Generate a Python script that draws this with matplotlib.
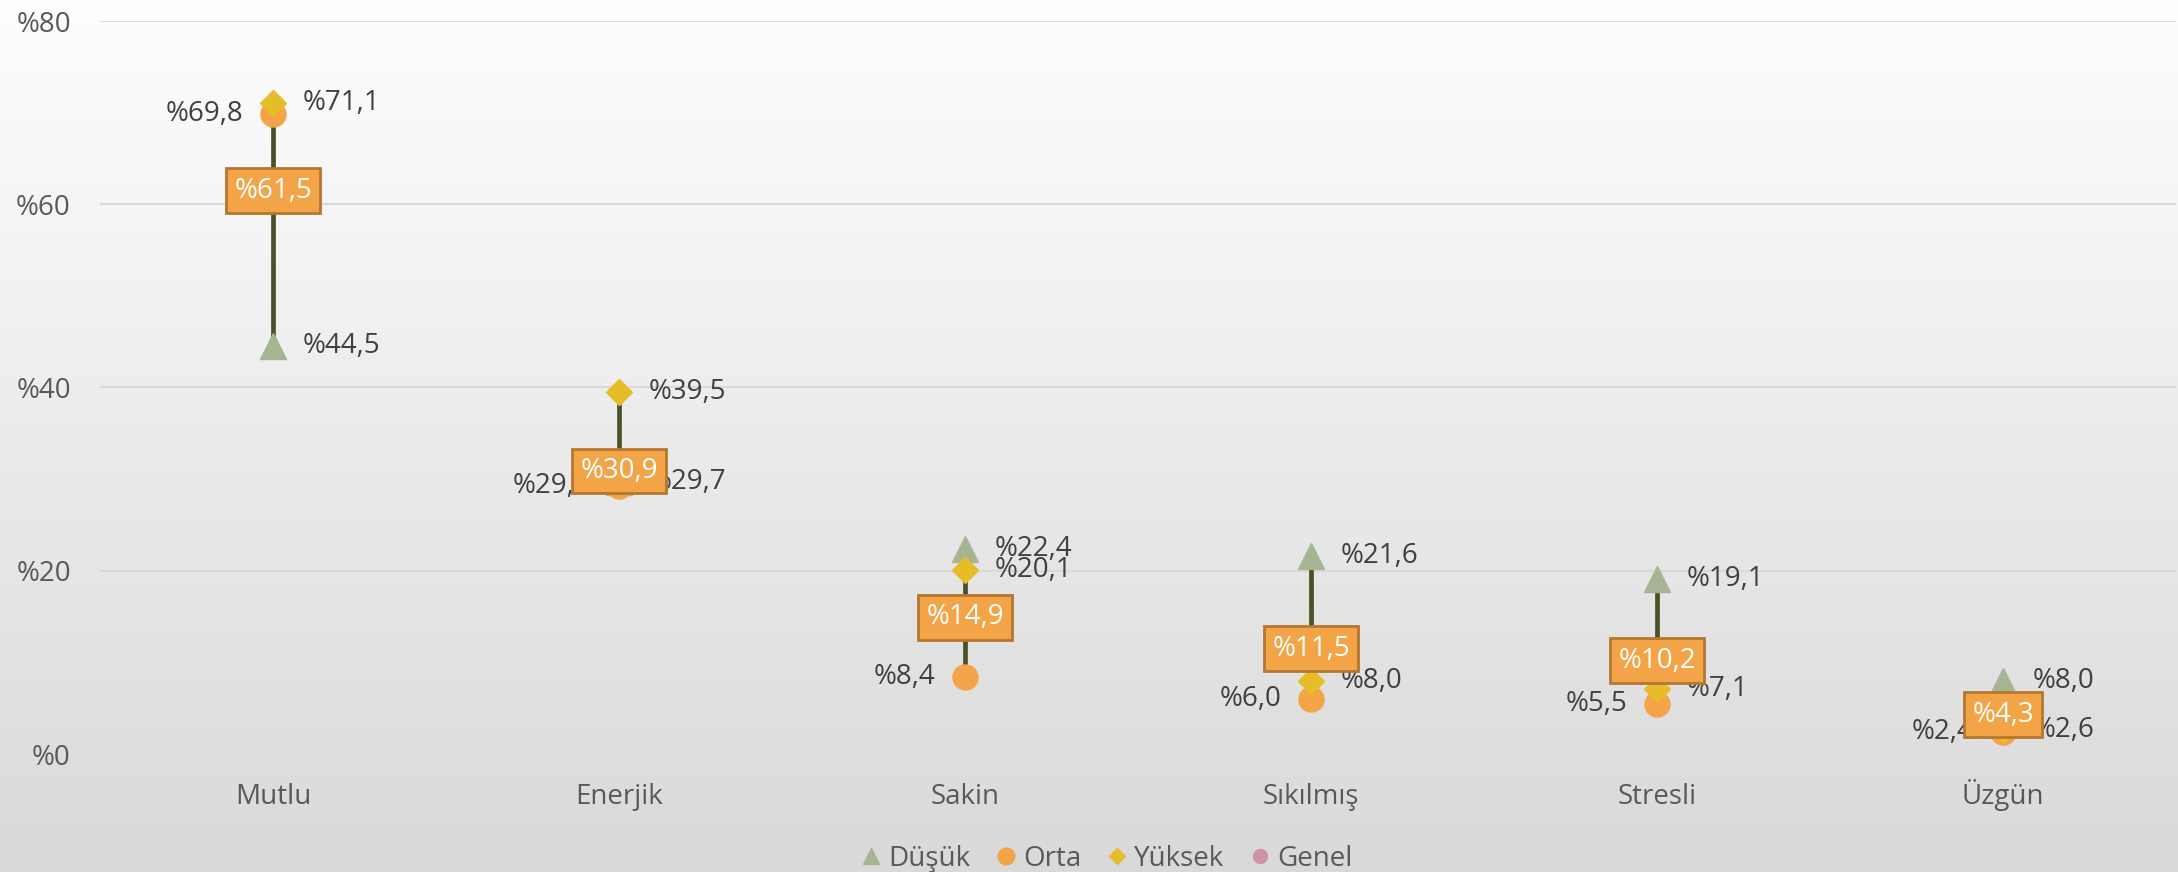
import matplotlib.pyplot as plt
import numpy as np
from matplotlib.lines import Line2D

plt.rcParams['font.family'] = ['Open Sans', 'DejaVu Sans']

# values (percent)
categories = ["Mutlu", "Enerjik", "Sakin", "Sıkılmış", "Stresli", "Üzgün"]
dusuk = [44.5, 29.7, 22.4, 21.6, 19.1, 8.0]
orta = [69.8, 29.3, 8.4, 6.0, 5.5, 2.4]
yuksek = [71.1, 39.5, 20.1, 8.0, 7.1, 2.6]
genel = [61.5, 30.9, 14.9, 11.5, 10.2, 4.3]
yticks = [0, 20, 40, 60, 80]

c_dusuk = "#A5B592"
c_orta = "#F3A447"
c_yuksek = "#E7BC29"
c_genel = "#D092A7"
c_line = "#4A5028"
c_lbl = "#404040"


def fmt(v):
    return "%" + f"{v:.1f}".replace(".", ",")


fig = plt.figure(figsize=(21.78, 8.72), dpi=100)

# light grey gradient behind everything
bg = fig.add_axes([0, 0, 1, 1], zorder=-10)
grad = np.linspace(0, 1, 256).reshape(-1, 1)
bg.imshow(grad, aspect='auto', cmap=plt.matplotlib.colors.LinearSegmentedColormap.from_list(
    "bg", ["#FEFEFE", "#D9D9D9"]), extent=[0, 1, 0, 1], origin='upper')
bg.axis('off')

ax = fig.add_axes([100 / 2178, 1 - 754 / 872, 2076 / 2178, (754 - 21) / 872])
ax.set_facecolor('none')
x = np.arange(len(categories))

ax.set_xlim(-0.5, len(categories) - 0.5)
ax.set_ylim(0, 80)
ax.set_yticks(yticks)
ax.set_yticklabels(["%" + str(t) for t in yticks])
ax.set_xticks(x)
ax.set_xticklabels(categories)
ax.grid(axis='y', color='#D9D9D9', lw=1.5)
ax.set_axisbelow(True)
for s in ax.spines.values():
    s.set_visible(False)
ax.tick_params(axis='both', length=0, labelsize=20, labelcolor='#595959')
ax.tick_params(axis='y', pad=21)
ax.tick_params(axis='x', pad=36)
for lbl in ax.get_xticklabels():
    lbl.set_va('baseline')

# high-low lines
lo = np.minimum.reduce([dusuk, orta, yuksek])
hi = np.maximum.reduce([dusuk, orta, yuksek])
ax.vlines(x, lo, hi, color=c_line, lw=3.4, zorder=2)

ax.plot(x, dusuk, ls='none', marker='^', ms=19, color=c_dusuk, zorder=3)
ax.plot(x, orta, ls='none', marker='o', ms=18, color=c_orta, zorder=3)
ax.plot(x, yuksek, ls='none', marker='D', ms=13, color=c_yuksek, zorder=4)

for i in range(len(categories)):
    ax.annotate(fmt(orta[i]), (x[i], orta[i]), xytext=(-21, 0), textcoords='offset points',
                ha='right', va='center', fontsize=20, color=c_lbl, zorder=5)
    ax.annotate(fmt(dusuk[i]), (x[i], dusuk[i]), xytext=(21, 0), textcoords='offset points',
                ha='left', va='center', fontsize=20, color=c_lbl, zorder=5)
    ax.annotate(fmt(yuksek[i]), (x[i], yuksek[i]), xytext=(21, 0), textcoords='offset points',
                ha='left', va='center', fontsize=20, color=c_lbl, zorder=5)
    ax.text(x[i], genel[i], fmt(genel[i]), ha='center', va='center', fontsize=20,
            color='white', zorder=6,
            bbox=dict(boxstyle='square,pad=0.3', fc=c_orta, ec='#B5762F', lw=2))

handles = [
    Line2D([], [], ls='none', marker='^', ms=12, color=c_dusuk),
    Line2D([], [], ls='none', marker='o', ms=12, color=c_orta),
    Line2D([], [], ls='none', marker='D', ms=8, color=c_yuksek),
    Line2D([], [], ls='none', marker='o', ms=10, color=c_genel),
]
fig.legend(handles, ["Düşük", "Orta", "Yüksek", "Genel"], loc='center',
           bbox_to_anchor=(0.508, 13 / 872), ncol=4, frameon=False, fontsize=20,
           labelcolor='#595959', handlelength=0.8, handletextpad=0.2, columnspacing=0.9)

fig.savefig("out.png", dpi=100)
